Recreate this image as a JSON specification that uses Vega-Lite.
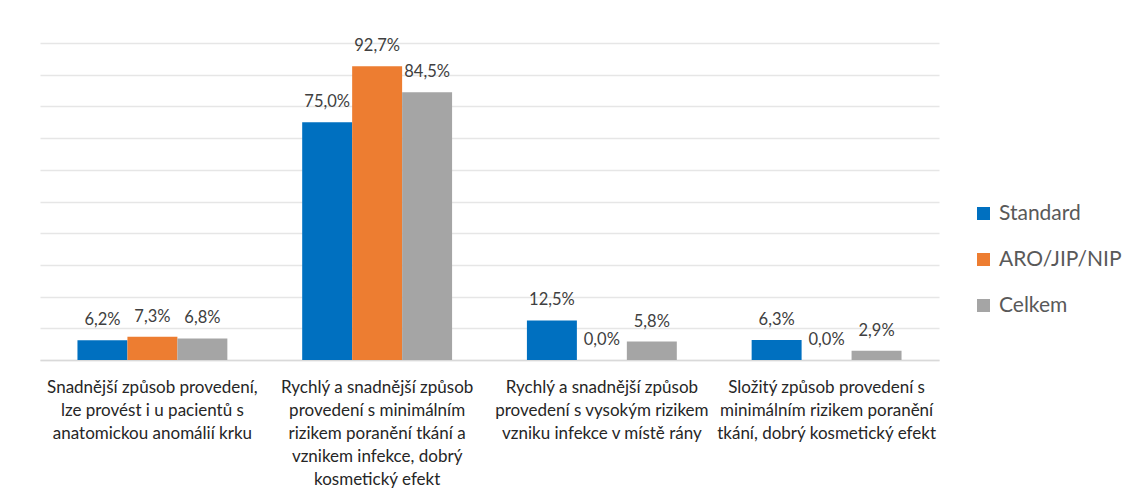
{
  "$schema": "https://vega.github.io/schema/vega-lite/v6.json",
  "width": 899,
  "height": 317,
  "autosize": {"type": "none"},
  "padding": {"left": 40, "top": 43, "right": 198, "bottom": 138},
  "background": "white",
  "config": {
    "locale": {"number": {"decimal": ",", "thousands": " ", "grouping": [3], "currency": ["", " Kč"]}},
    "view": {"stroke": null},
    "font": "Lato"
  },
  "data": {
    "values": [
      {"kategorie": "Snadnější způsob provedení,|lze provést i u pacientů s|anatomickou anomálií krku", "skupina": "Standard", "podil": 0.062},
      {"kategorie": "Snadnější způsob provedení,|lze provést i u pacientů s|anatomickou anomálií krku", "skupina": "ARO/JIP/NIP", "podil": 0.073},
      {"kategorie": "Snadnější způsob provedení,|lze provést i u pacientů s|anatomickou anomálií krku", "skupina": "Celkem", "podil": 0.068},
      {"kategorie": "Rychlý a snadnější způsob|provedení s minimálním|rizikem poranění tkání a|vznikem infekce, dobrý|kosmetický efekt", "skupina": "Standard", "podil": 0.75},
      {"kategorie": "Rychlý a snadnější způsob|provedení s minimálním|rizikem poranění tkání a|vznikem infekce, dobrý|kosmetický efekt", "skupina": "ARO/JIP/NIP", "podil": 0.927},
      {"kategorie": "Rychlý a snadnější způsob|provedení s minimálním|rizikem poranění tkání a|vznikem infekce, dobrý|kosmetický efekt", "skupina": "Celkem", "podil": 0.845},
      {"kategorie": "Rychlý a snadnější způsob|provedení s vysokým rizikem|vzniku infekce v místě rány", "skupina": "Standard", "podil": 0.125},
      {"kategorie": "Rychlý a snadnější způsob|provedení s vysokým rizikem|vzniku infekce v místě rány", "skupina": "ARO/JIP/NIP", "podil": 0.0},
      {"kategorie": "Rychlý a snadnější způsob|provedení s vysokým rizikem|vzniku infekce v místě rány", "skupina": "Celkem", "podil": 0.058},
      {"kategorie": "Složitý způsob provedení s|minimálním rizikem poranění|tkání, dobrý kosmetický efekt", "skupina": "Standard", "podil": 0.063},
      {"kategorie": "Složitý způsob provedení s|minimálním rizikem poranění|tkání, dobrý kosmetický efekt", "skupina": "ARO/JIP/NIP", "podil": 0.0},
      {"kategorie": "Složitý způsob provedení s|minimálním rizikem poranění|tkání, dobrý kosmetický efekt", "skupina": "Celkem", "podil": 0.029}
    ]
  },
  "encoding": {
    "x": {
      "field": "kategorie",
      "type": "nominal",
      "sort": null,
      "scale": {"paddingInner": 0.333, "paddingOuter": 0.1667},
      "axis": {
        "title": null,
        "labelAngle": 0,
        "labelExpr": "split(datum.label, '|')",
        "labelFontSize": 17,
        "labelColor": "#262626",
        "labelLineHeight": 23,
        "labelPadding": 19,
        "labelLimit": 0,
        "labelBaseline": "top",
        "ticks": false,
        "domainColor": "#d9d9d9",
        "domainWidth": 1.5
      }
    },
    "xOffset": {"field": "skupina", "type": "nominal", "sort": ["Standard", "ARO/JIP/NIP", "Celkem"], "scale": {"paddingInner": 0}},
    "y": {
      "field": "podil",
      "type": "quantitative",
      "scale": {"domain": [0, 1], "nice": false},
      "axis": {
        "title": null,
        "labels": false,
        "ticks": false,
        "domain": false,
        "values": [0, 0.1, 0.2, 0.3, 0.4, 0.5, 0.6, 0.7, 0.8, 0.9, 1.0],
        "gridColor": "#e6e6e6",
        "gridWidth": 1.5
      }
    }
  },
  "layer": [
    {
      "mark": {"type": "bar"},
      "encoding": {
        "color": {
          "field": "skupina",
          "type": "nominal",
          "scale": {"domain": ["Standard", "ARO/JIP/NIP", "Celkem"], "range": ["#0070C0", "#ED7D31", "#A5A5A5"]},
          "legend": {
            "title": null,
            "orient": "none",
            "legendX": 933,
            "legendY": 160,
            "symbolType": "square",
            "symbolSize": 169,
            "symbolStrokeWidth": 0,
            "labelFontSize": 21,
            "labelColor": "#595959",
            "labelOffset": 5,
            "rowPadding": 24
          }
        }
      }
    },
    {
      "mark": {"type": "text", "fontSize": 16.5, "color": "#404040", "baseline": "middle", "dy": -20},
      "encoding": {
        "text": {"field": "podil", "type": "quantitative", "format": ".1%"}
      }
    }
  ]
}
